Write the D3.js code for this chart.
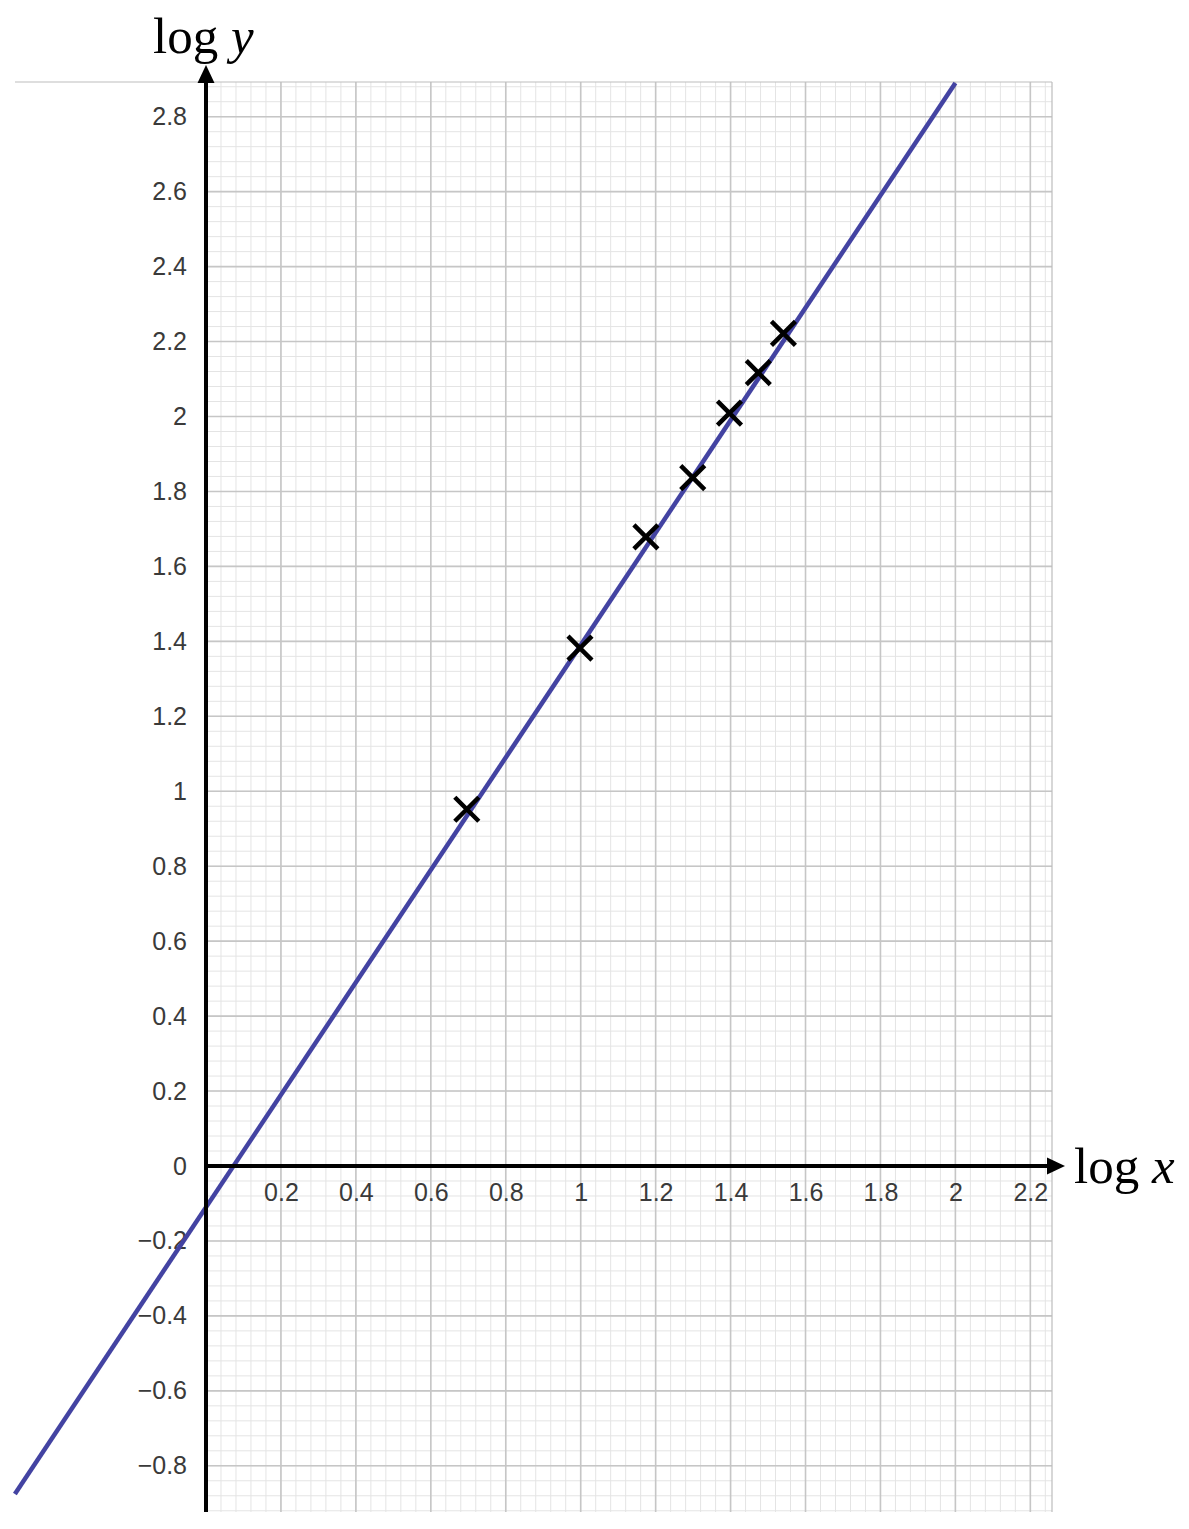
<!DOCTYPE html>
<html>
<head>
<meta charset="utf-8">
<script src="https://cdn.jsdelivr.net/npm/d3@7"></script>
<style>
  html, body { margin: 0; padding: 0; background: #fff; }
  svg { display: block; }
  .tick text { font-family: "Liberation Sans", Arial, sans-serif; font-size: 25px; fill: #3a3a3a; }
  .title { font-family: "Liberation Serif", "Times New Roman", serif; font-size: 51px; fill: #000; }
</style>
</head>
<body>
<div id="chart"></div>
<script>
/* ---------- data ---------- */
const logX = [0.696, 0.998, 1.174, 1.299, 1.397, 1.474, 1.541];
const logY = [0.952, 1.382, 1.679, 1.837, 2.009, 2.117, 2.222];

// line of best fit: logy = slope * logx + intercept
const fitSlope     = 1.5;
const fitIntercept = -0.11;
const fitRange     = [-0.51, 2.0];

const xTicks = [0.2, 0.4, 0.6, 0.8, 1, 1.2, 1.4, 1.6, 1.8, 2, 2.2];
const yTicks = [-0.8, -0.6, -0.4, -0.2, 0, 0.2, 0.4, 0.6, 0.8, 1, 1.2, 1.4, 1.6, 1.8, 2, 2.2, 2.4, 2.6, 2.8];

/* ---------- frame ---------- */
const W = 1189, H = 1529;
const gridRight = 1052, gridTop = 82, gridBottom = 1512;

const x = d3.scaleLinear().domain([0, 2]).range([206, 955.4]);
const y = d3.scaleLinear().domain([0, 2.8]).range([1166, 116.7]);

const svg = d3.select('#chart').append('svg')
  .attr('width', W).attr('height', H);

/* ---------- grid ---------- */
const xMax = x.invert(gridRight);
const yMin = y.invert(gridBottom), yMax = y.invert(gridTop);

const minorX = d3.range(1, Math.floor(xMax / 0.04) + 1).map(i => i * 0.04);
const minorY = d3.range(Math.ceil(yMin / 0.04), Math.floor(yMax / 0.04) + 1).map(i => i * 0.04);
const majorX = minorX.filter((v, i) => (i + 1) % 5 === 0);
const majorY = minorY.filter(v => Math.abs(Math.round(v / 0.2) * 0.2 - v) < 1e-6);

const grid = svg.append('g');
grid.selectAll('.mnx').data(minorX).enter().append('line')
  .attr('x1', d => x(d)).attr('x2', d => x(d))
  .attr('y1', gridTop).attr('y2', gridBottom)
  .attr('stroke', '#e4e4e4').attr('stroke-width', 1);
grid.selectAll('.mny').data(minorY).enter().append('line')
  .attr('x1', x(0)).attr('x2', gridRight)
  .attr('y1', d => y(d)).attr('y2', d => y(d))
  .attr('stroke', '#e4e4e4').attr('stroke-width', 1);
grid.selectAll('.mjx').data(majorX).enter().append('line')
  .attr('x1', d => x(d)).attr('x2', d => x(d))
  .attr('y1', gridTop).attr('y2', gridBottom)
  .attr('stroke', '#c6c6c6').attr('stroke-width', 1.6);
grid.selectAll('.mjy').data(majorY).enter().append('line')
  .attr('x1', x(0)).attr('x2', gridRight)
  .attr('y1', d => y(d)).attr('y2', d => y(d))
  .attr('stroke', '#c6c6c6').attr('stroke-width', 1.6);

// border (top line runs out to the left edge of the crop)
grid.append('line').attr('x1', 15).attr('x2', gridRight)
  .attr('y1', gridTop).attr('y2', gridTop)
  .attr('stroke', '#bdbdbd').attr('stroke-width', 1.2);
grid.append('line').attr('x1', gridRight).attr('x2', gridRight)
  .attr('y1', gridTop).attr('y2', gridBottom)
  .attr('stroke', '#bdbdbd').attr('stroke-width', 1.2);

/* ---------- tick labels ---------- */
const fmt = d3.format('~g');

svg.append('g')
  .attr('transform', `translate(${x(0)},0)`)
  .call(d3.axisLeft(y).tickValues(yTicks).tickFormat(fmt).tickSize(0).tickPadding(19))
  .call(g => g.select('.domain').remove())
  .call(g => g.selectAll('text').attr('font-family', null).attr('font-size', null));

svg.append('g')
  .attr('transform', `translate(0,${y(0)})`)
  .call(d3.axisBottom(x).tickValues(xTicks).tickFormat(fmt).tickSize(0).tickPadding(17))
  .call(g => g.select('.domain').remove())
  .call(g => g.selectAll('text').attr('font-family', null).attr('font-size', null));

/* ---------- best-fit line ---------- */
const fitPts = fitRange.map(v => [v, fitSlope * v + fitIntercept]);
svg.append('path')
  .datum(fitPts)
  .attr('d', d3.line().x(d => x(d[0])).y(d => y(d[1])))
  .attr('fill', 'none')
  .attr('stroke', '#4343a2')
  .attr('stroke-width', 4.5);

/* ---------- axes with arrows ---------- */
const ax = svg.append('g');
ax.append('line')
  .attr('x1', x(0)).attr('x2', x(0))
  .attr('y1', gridBottom).attr('y2', 80)
  .attr('stroke', '#000').attr('stroke-width', 4);
ax.append('path')
  .attr('d', `M${x(0)},65 L${x(0) - 8.5},83 L${x(0) + 8.5},83 Z`)
  .attr('fill', '#000');
ax.append('line')
  .attr('x1', x(0)).attr('x2', 1050)
  .attr('y1', y(0)).attr('y2', y(0))
  .attr('stroke', '#000').attr('stroke-width', 4);
ax.append('path')
  .attr('d', `M1065,${y(0)} L1047,${y(0) - 8.5} L1047,${y(0) + 8.5} Z`)
  .attr('fill', '#000');

/* ---------- data points (crosses) ---------- */
const pts = logX.map((v, i) => [v, logY[i]]);
const s = 12;
svg.append('g').selectAll('path')
  .data(pts).enter().append('path')
  .attr('d', d => {
    const cx = x(d[0]), cy = y(d[1]);
    return `M${cx - s},${cy - s}L${cx + s},${cy + s}M${cx - s},${cy + s}L${cx + s},${cy - s}`;
  })
  .attr('stroke', '#000').attr('stroke-width', 4.5).attr('fill', 'none');

/* ---------- axis titles ---------- */
const ty = svg.append('text').attr('class', 'title').attr('x', 153).attr('y', 53);
ty.append('tspan').text('log ');
ty.append('tspan').attr('font-style', 'italic').text('y');

const tx = svg.append('text').attr('class', 'title').attr('x', 1074).attr('y', 1183);
tx.append('tspan').text('log ');
tx.append('tspan').attr('font-style', 'italic').text('x');
</script>
</body>
</html>
